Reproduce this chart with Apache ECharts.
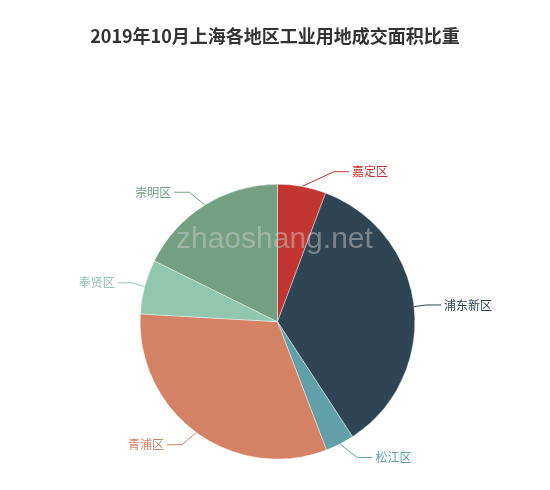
<!DOCTYPE html>
<html>
<head>
<meta charset="utf-8">
<script src="https://cdn.jsdelivr.net/npm/echarts@6/dist/echarts.min.js"></script>
<style>html,body{margin:0;padding:0;background:#fff;}#c{width:550px;height:490px;}</style>
</head>
<body>
<div id="c"></div>
<script>
const titleText = '2019年10月上海各地区工业用地成交面积比重';
const districts = ['嘉定区', '浦东新区', '松江区', '青浦区', '奉贤区', '崇明区'];
const shares = [5.7, 35.1, 3.4, 31.7, 6.4, 17.7];
const palette = ['#c23531', '#2f4554', '#61a0a8', '#d48265', '#91c7ae', '#749f83'];

const CX = 277.5, CY = 321.7, R = 137.4, LEN = 15, LEN2 = 15;
const total = shares.reduce((a, b) => a + b, 0);

// classic (ECharts 4 style) outer label placement, computed from the data angles
function computeLabels() {
  let cum = 0;
  const items = shares.map((v, i) => {
    const phi = (cum + v / 2) / total * 2 * Math.PI;
    cum += v;
    const dx = Math.sin(phi), dy = -Math.cos(phi);
    const x1 = CX + R * dx, y1 = CY + R * dy;
    const y = CY + (R + LEN) * dy;
    const dir = dx < 0 ? -1 : 1;
    return { i, dx, dy, x1, y1, y, dir, x: x1 + dx * LEN + dir * LEN2 };
  });
  const out = {};
  [1, -1].forEach(dir => {
    const side = items.filter(it => it.dir === dir).sort((a, b) => a.y - b.y);
    const up = side.filter(it => it.y < CY);
    const down = side.filter(it => it.y >= CY);
    const change = (list, isDown) => {
      let last = isDown ? Number.MAX_VALUE : 0;
      list.forEach(it => {
        const deltaY = Math.abs(it.y - CY);
        let deltaX = deltaY < R + LEN
          ? Math.sqrt((R + LEN + LEN2) * (R + LEN + LEN2) - deltaY * deltaY)
          : Math.abs(it.x - CX);
        if (isDown && deltaX >= last) deltaX = last - 10;
        if (!isDown && deltaX <= last) deltaX = last + 10;
        it.x = CX + deltaX * dir;
        last = deltaX;
      });
    };
    change(up, false);
    change(down, true);
  });
  items.forEach(it => {
    const p2x = it.x - 3 * it.dir;
    out[it.i] = {
      x: it.x, y: it.y,
      align: it.dir > 0 ? 'left' : 'right',
      verticalAlign: 'middle',
      labelLinePoints: [[it.x1, it.y1], [p2x - LEN2 * it.dir, it.y], [p2x, it.y]]
    };
  });
  return out;
}
const labelPos = computeLabels();

const chart = echarts.init(document.getElementById('c'));
chart.setOption({
  color: palette,
  title: {
    text: titleText,
    left: 'center',
    top: 22,
    textStyle: { fontSize: 18, fontWeight: 'bold', color: '#333', fontFamily: 'Noto Sans CJK SC' }
  },
  graphic: [{
    type: 'text',
    left: 176,
    top: 225,
    z: 100,
    silent: true,
    style: { text: 'zhaoshang.net', font: '30px "Liberation Sans", Arial, sans-serif', fill: 'rgba(210,210,210,0.45)' }
  }],
  series: [{
    type: 'pie',
    center: [CX, CY],
    radius: R,
    startAngle: 90,
    data: districts.map((d, i) => ({ name: d, value: shares[i], label: { color: palette[i] } })),
    label: { fontSize: 12, fontFamily: 'Noto Sans CJK SC' },
    labelLine: { length: LEN, length2: LEN2, lineStyle: { width: 1 } },
    labelLayout: function (p) { return labelPos[p.dataIndex]; },
    itemStyle: { borderColor: '#fff', borderWidth: 0.4 }
  }]
});
</script>
</body>
</html>
